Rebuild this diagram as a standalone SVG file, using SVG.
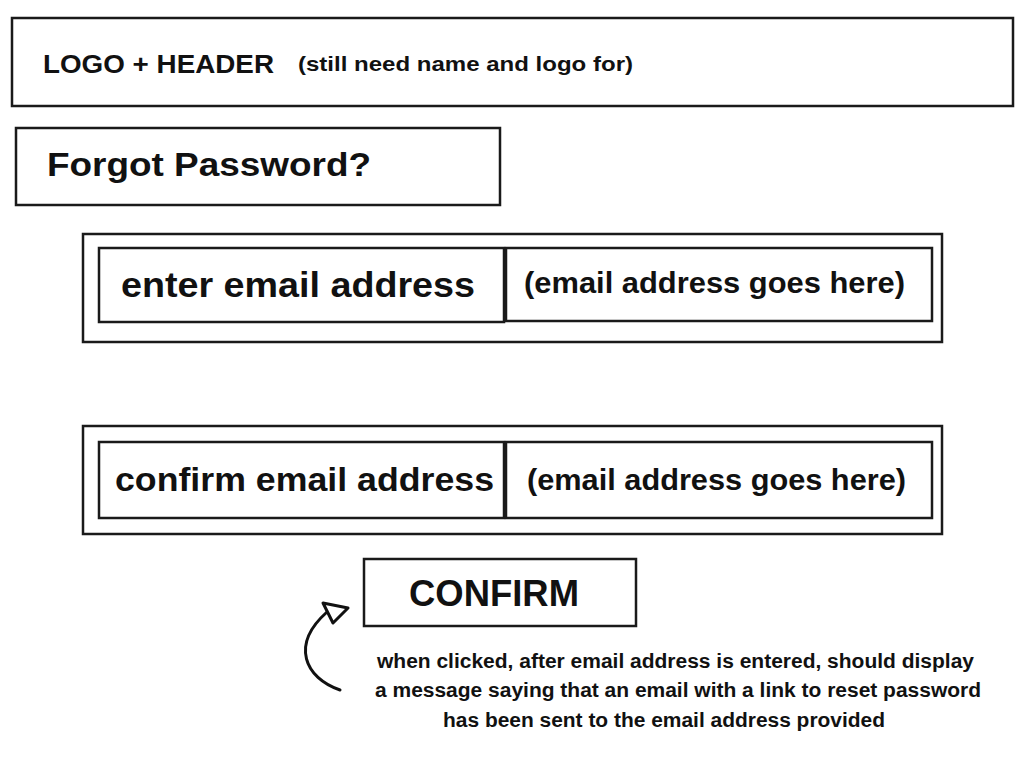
<svg xmlns="http://www.w3.org/2000/svg" width="1024" height="768" viewBox="0 0 1024 768">
<style>
.box{fill:#fff;stroke:#1a1a1a;stroke-width:2.5}
text{font-family:"Liberation Sans",Arial,sans-serif;font-weight:bold;fill:#111}
.line{fill:none;stroke:#111;stroke-width:3;stroke-linecap:round}
</style>
<rect width="1024" height="768" fill="#fff"/>
<g id="header">
<rect class="box" x="12" y="18" width="1001" height="88"/>
<text x="43" y="73" font-size="26" textLength="231" lengthAdjust="spacingAndGlyphs">LOGO + HEADER</text>
<text x="298" y="71" font-size="21" textLength="335" lengthAdjust="spacingAndGlyphs">(still need name and logo for)</text>
</g>
<g id="title">
<rect class="box" x="16" y="128" width="484" height="77"/>
<text x="47" y="176" font-size="34" textLength="324" lengthAdjust="spacingAndGlyphs">Forgot Password?</text>
</g>
<g id="enter-row">
<rect class="box" x="83" y="234" width="859" height="108"/>
<rect class="box" x="99" y="248" width="405" height="74"/>
<rect class="box" x="506" y="248" width="426" height="73"/>
<text x="121" y="297" font-size="35" textLength="354" lengthAdjust="spacingAndGlyphs">enter email address</text>
<text x="524" y="293" font-size="29" textLength="381" lengthAdjust="spacingAndGlyphs">(email address goes here)</text>
</g>
<g id="confirm-row">
<rect class="box" x="83" y="426" width="859" height="108"/>
<rect class="box" x="99" y="442" width="405" height="76"/>
<rect class="box" x="506" y="442" width="426" height="76"/>
<text x="115" y="491" font-size="34" textLength="379" lengthAdjust="spacingAndGlyphs">confirm email address</text>
<text x="527" y="490" font-size="29" textLength="379" lengthAdjust="spacingAndGlyphs">(email address goes here)</text>
</g>
<g id="confirm-button">
<rect class="box" x="364" y="559" width="272" height="67"/>
<text x="409" y="606" font-size="36" textLength="170" lengthAdjust="spacingAndGlyphs">CONFIRM</text>
</g>
<g id="connectors">
<path class="line" d="M340,690 C305,678 290,645 327,612"/>
<polygon points="323,603 348,608 333,623" fill="#fff" stroke="#111" stroke-width="3" stroke-linejoin="round"/>
</g>
<g id="note">
<text x="377" y="668" font-size="20" textLength="597" lengthAdjust="spacingAndGlyphs">when clicked, after email address is entered, should display</text>
<text x="375" y="697" font-size="20" textLength="606" lengthAdjust="spacingAndGlyphs">a message saying that an email with a link to reset password</text>
<text x="443" y="727" font-size="20" textLength="442" lengthAdjust="spacingAndGlyphs">has been sent to the email address provided</text>
</g>
</svg>
